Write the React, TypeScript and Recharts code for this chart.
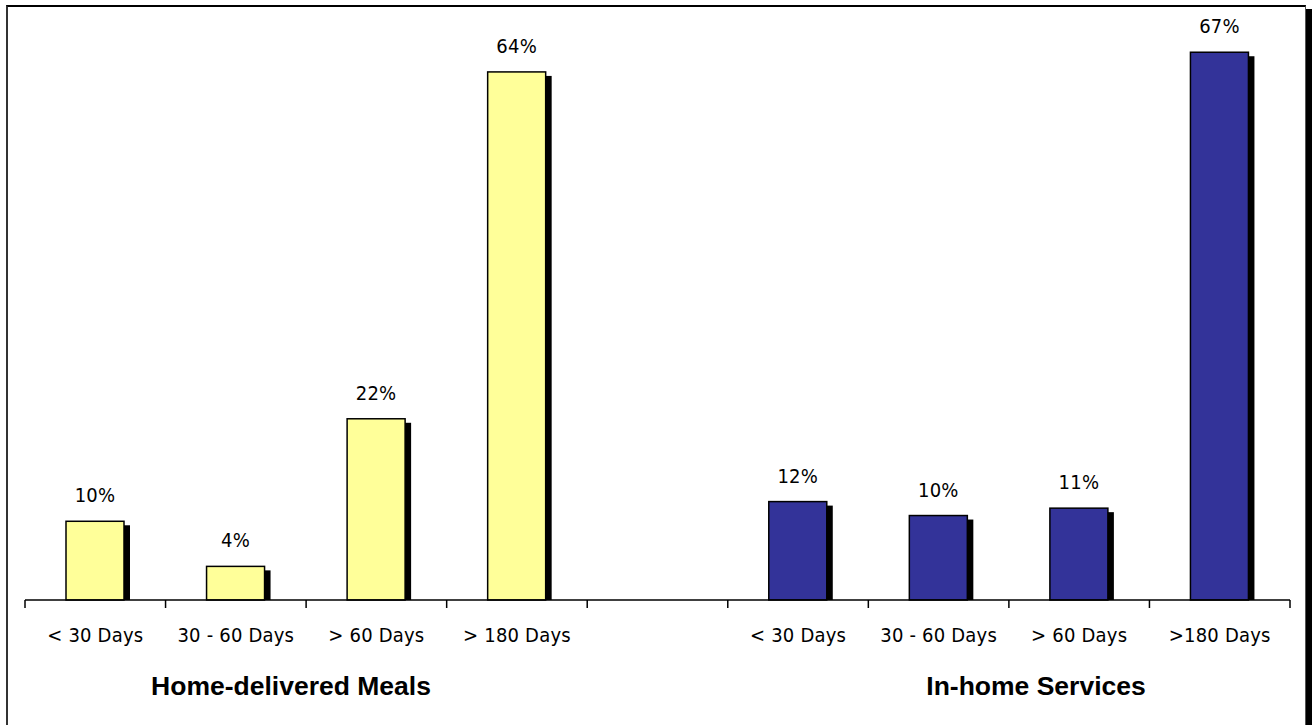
import { BarChart, Bar, XAxis, YAxis, Cell, LabelList } from "recharts";

const categories = ["< 30 Days", "30 - 60 Days", "> 60 Days", "> 180 Days", "", "< 30 Days", "30 - 60 Days", "> 60 Days", ">180 Days"];
const values: (number | null)[] = [9.6, 4.1, 22.1, 64.4, null, 12.0, 10.3, 11.2, 66.8];
const barColors = ["#FFFF99", "#FFFF99", "#FFFF99", "#FFFF99", "#FFFFFF", "#333399", "#333399", "#333399", "#333399"];
const groupLabels = ["Home-delivered Meals", "In-home Services"];

const data = categories.map((name, i) => ({ name, value: values[i] }));

const FONT = '"DejaVu Sans Condensed", "Liberation Sans Narrow", Arial, sans-serif';

const ShadowBar = (props: any) => {
    const { x, y, width, height, fill } = props;
    if (!height || height <= 0) return null;
    return (
        <g>
            <rect x={x + 6} y={y + 4} width={width} height={height - 4} fill="#000" />
            <rect x={x} y={y} width={width} height={height} fill={fill} stroke="#000" strokeWidth={1.5} />
        </g>
    );
};

const Tick = (props: any) => {
    const { x, y, payload, index } = props;
    const half = 1265 / 9 / 2;
    return (
        <g>
            <line x1={x - half} x2={x - half} y1={y} y2={y + 8} stroke="#000" strokeWidth={1.5} />
            {index === categories.length - 1 && (
                <line x1={x + half} x2={x + half} y1={y} y2={y + 8} stroke="#000" strokeWidth={1.5} />
            )}
            <text x={x} y={y + 42} textAnchor="middle" fontFamily={FONT} fontSize={20} letterSpacing={0.2} fill="#000">
                {payload.value}
            </text>
        </g>
    );
};

const ValueLabel = (props: any) => {
    const { x, y, width, value } = props;
    if (value == null) return null;
    return (
        <text x={x + width / 2} y={y - 19} textAnchor="middle" fontFamily={FONT} fontSize={20} letterSpacing={0.2} fill="#000">
            {Math.round(value)}%
        </text>
    );
};

export default function App() {
    return (
        <div style={{ position: "absolute", left: 0, top: 0, width: 1312, height: 725, background: "#fff", overflow: "hidden" }}>
            <div
                style={{
                    position: "absolute", left: 6, top: 5, width: 1297, height: 740,
                    borderLeft: "2px solid #333", borderTop: "2px solid #000", borderRight: "1px solid #555",
                    boxShadow: "6px 4px 0 #000", background: "#fff",
                }}
            />
            <div style={{ position: "absolute", left: 0, top: 0 }}>
                <BarChart width={1312} height={725} data={data} margin={{ top: 26, right: 22, left: 25, bottom: 85 }}>
                    <YAxis hide domain={[0, 70]} />
                    <XAxis
                        dataKey="name"
                        height={40}
                        tickSize={0}
                        tickMargin={0}
                        tickLine={false}
                        axisLine={{ stroke: "#000", strokeWidth: 1.5 }}
                        tick={<Tick />}
                        interval={0}
                    />
                    <Bar dataKey="value" barSize={58} shape={<ShadowBar />} isAnimationActive={false}>
                        {data.map((d, i) => (
                            <Cell key={i} fill={barColors[i]} />
                        ))}
                        <LabelList dataKey="value" content={<ValueLabel />} />
                    </Bar>
                </BarChart>
            </div>
            <div style={{ position: "absolute", left: 291, top: 686, transform: "translate(-50%, -50%)", fontFamily: '"Liberation Sans", Arial, sans-serif', fontWeight: "bold", fontSize: 26.5, whiteSpace: "nowrap" }}>
                {groupLabels[0]}
            </div>
            <div style={{ position: "absolute", left: 1036, top: 686, transform: "translate(-50%, -50%)", fontFamily: '"Liberation Sans", Arial, sans-serif', fontWeight: "bold", fontSize: 26.5, whiteSpace: "nowrap" }}>
                {groupLabels[1]}
            </div>
        </div>
    );
}
